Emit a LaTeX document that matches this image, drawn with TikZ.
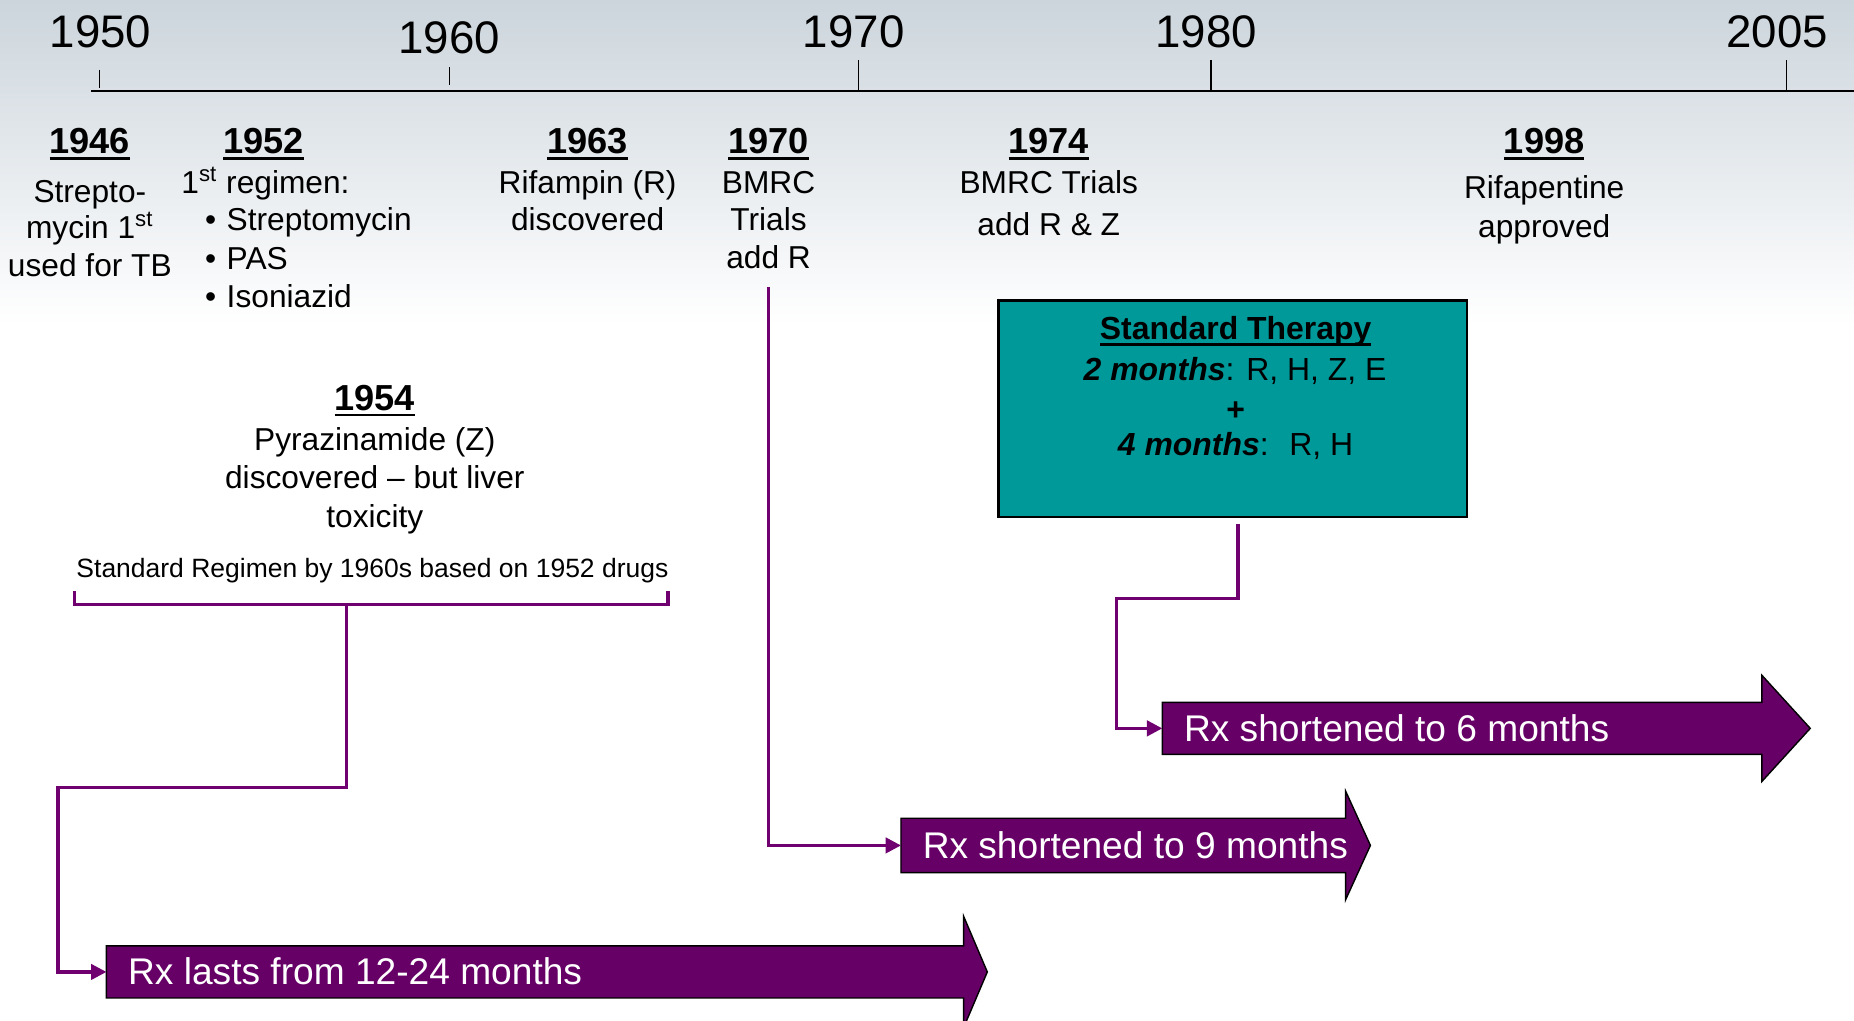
\documentclass[tikz,border=0pt]{standalone}
\usepackage{fontspec}
\setmainfont{Liberation Sans}
\usetikzlibrary{arrows.meta}
\definecolor{arrowpurple}{RGB}{102,0,102}
\definecolor{connpurple}{RGB}{112,0,112}
\definecolor{teal}{RGB}{0,153,153}
\definecolor{bgtop}{RGB}{204,213,220}
\definecolor{bgmid}{RGB}{230,234,238}
\newcommand\myul[1]{\setbox0=\hbox{#1}\rlap{\rule[-2.6pt]{\wd0}{1.2pt}}\box0}
\tikzset{
  body/.style={font=\fontsize{13.4}{16}\selectfont, inner sep=0pt, anchor=base},
  bodyleft/.style={body, anchor=base west},
  yearhead/.style={font=\fontsize{15.3}{18}\selectfont\bfseries, inner sep=0pt, anchor=base},
  axisyear/.style={font=\fontsize{19.3}{23}\selectfont, inner sep=0pt, anchor=base},
  axisline/.style={draw=black, line width=0.8pt},
  tickline/.style={draw=black, line width=0.6pt},
  conn/.style={draw=connpurple, line width=1.35pt},
  connarrow/.style={conn, -{Triangle[length=6.5pt,width=6.5pt]}},
  bigarrow/.style={fill=arrowpurple, draw=black, line width=0.6pt},
  arrowtext/.style={font=\fontsize{15.7}{19}\selectfont, text=white, inner sep=0pt, anchor=base west},
  therapybox/.style={draw=black, line width=1pt, fill=teal, inner sep=0pt,
    minimum width=198pt, minimum height=91.5pt},
  boxtext/.style={font=\fontsize{13.5}{16}\selectfont, inner sep=0pt, anchor=base},
  smalltext/.style={font=\fontsize{11.2}{13}\selectfont, inner sep=0pt, anchor=base}
}
\begin{document}
\begin{tikzpicture}[x=0.5pt,y=-0.5pt]
\useasboundingbox (0,0) rectangle (1568,863);
\clip (0,0) rectangle (1568,863);
% background
\fill[white] (0,0) rectangle (1568,863);
\shade[top color=bgtop, middle color=bgmid, bottom color=white] (0,0) rectangle (1568,275);

% timeline
\draw[axisline] (77,77) -- (1568,77);
\draw[tickline] (84,59) -- (84,74);
\draw[tickline] (380,57) -- (380,72);
\draw[tickline] (726,51) -- (726,77);
\draw[tickline] (1024,51) -- (1024,77);
\draw[tickline] (1511,51) -- (1511,77);
\node[axisyear] (y1950) at (85,40) {1950};
\node[axisyear] (y1960) at (380,45) {1960};
\node[axisyear] (y1970) at (722,40) {1970};
\node[axisyear] (y1980) at (1020,40) {1980};
\node[axisyear] (y2005) at (1503,40) {2005};

% events
\node[yearhead] (h1946) at (76,130) {\myul{1946}};
\node[body] (t1946a) at (76,171) {Strepto-};
\node[body] (t1946b) at (76,202) {mycin 1\textsuperscript{st}};
\node[body] (t1946c) at (76,234) {used for TB};

\node[yearhead] (h1952) at (223,130) {\myul{1952}};
\node[bodyleft] (t1952a) at (153,164) {1\textsuperscript{st} regimen:};
\node[bodyleft] (t1952b) at (173,195) {•\kern4.5pt Streptomycin};
\node[bodyleft] (t1952c) at (173,228) {•\kern4.5pt PAS};
\node[bodyleft] (t1952d) at (173,260) {•\kern4.5pt Isoniazid};

\node[yearhead] (h1963) at (497,130) {\myul{1963}};
\node[body] (t1963a) at (497,164) {Rifampin (R)};
\node[body] (t1963b) at (497,195) {discovered};

\node[yearhead] (h1970) at (650,130) {\myul{1970}};
\node[body] (t1970a) at (650,164) {BMRC};
\node[body] (t1970b) at (650,195) {Trials};
\node[body] (t1970c) at (650,227) {add R};

\node[yearhead] (h1974) at (887,130) {\myul{1974}};
\node[body] (t1974a) at (887,164) {BMRC Trials};
\node[body] (t1974b) at (887,199) {add R \& Z};

\node[yearhead] (h1998) at (1306,130) {\myul{1998}};
\node[body] (t1998a) at (1306,168) {Rifapentine};
\node[body] (t1998b) at (1306,201) {approved};

\node[yearhead] (h1954) at (317,347) {\myul{1954}};
\node[body] (t1954a) at (317,381) {Pyrazinamide (Z)};
\node[body] (t1954b) at (317,413) {discovered – but liver};
\node[body] (t1954c) at (317,446) {toxicity};

\node[smalltext] (bracktext) at (315,488) {Standard Regimen by 1960s based on 1952 drugs};

% standard therapy box
\node[therapybox] (box) at (1042.5,345.5) {};
\node[boxtext, font=\fontsize{13.5}{16}\selectfont\bfseries] (bx1) at (1045,287) {\myul{Standard Therapy}};
\node[boxtext] (bx2) at (1044.5,322) {\textbf{\textit{2 months}}: R, H, Z, E};
\node[boxtext, font=\fontsize{13.5}{16}\selectfont\bfseries] (bx3) at (1045,356) {+};
\node[boxtext] (bx4) at (1045,385) {\textbf{\textit{4 months}}:~ R, H};

% big arrows
\draw[bigarrow] (90,800) -- (815,800) -- (815,775) -- (835,822) -- (815,869) -- (815,844) -- (90,844) -- cycle;
\coordinate (arrA) at (90,822);
\node[arrowtext] (txtA) at (108,833) {Rx lasts from 12-24 months};

\draw[bigarrow] (762,692) -- (1138,692) -- (1138,669) -- (1159,715) -- (1138,761) -- (1138,738) -- (762,738) -- cycle;
\coordinate (arrB) at (762,715);
\node[arrowtext] (txtB) at (780,726) {Rx shortened to 9 months};

\draw[bigarrow] (983,594) -- (1490,594) -- (1490,571) -- (1531,616) -- (1490,661) -- (1490,638) -- (983,638) -- cycle;
\coordinate (arrC) at (983,616);
\node[arrowtext] (txtC) at (1001,627) {Rx shortened to 6 months};

% connectors
\coordinate (brL) at (63,500);
\coordinate (brR) at (565,500);
\coordinate (brM) at (293,511);
\coordinate (j1) at (49,666);
\draw[conn] (brL) |- (brM) -| (brR);
\draw[connarrow] (brM) |- (j1) |- (arrA);

\coordinate (s70) at (650,243);
\draw[connarrow] (s70) |- (arrB);

\coordinate (sb) at (1047,443);
\coordinate (j2) at (944,506);
\draw[connarrow] (sb) |- (j2) |- (arrC);
\end{tikzpicture}
\end{document}
